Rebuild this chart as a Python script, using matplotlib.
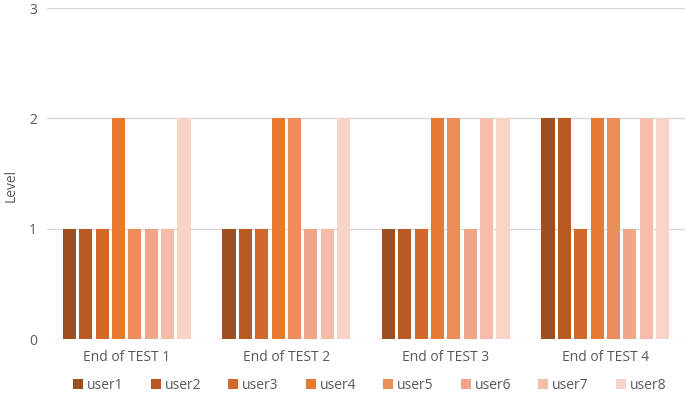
import numpy as np
from matplotlib import pyplot as plt

plt.rcParams['font.family'] = ['Open Sans', 'DejaVu Sans']

categories = ['End of TEST 1', 'End of TEST 2', 'End of TEST 3', 'End of TEST 4']
users = ['user1', 'user2', 'user3', 'user4', 'user5', 'user6', 'user7', 'user8']
levels = [
    [1, 1, 1, 2],  # user1
    [1, 1, 1, 2],  # user2
    [1, 1, 1, 1],  # user3
    [2, 2, 2, 2],  # user4
    [1, 2, 2, 2],  # user5
    [1, 1, 1, 1],  # user6
    [1, 1, 2, 2],  # user7
    [2, 2, 2, 2],  # user8
]
colors = ['#9E4F22', '#B95A24', '#D2692A', '#E67A30',
          '#EC8D5C', '#F0A688', '#F4BCA9', '#F8D3C7']

fig = plt.figure(figsize=(6.85, 4.01), dpi=100)
ax = fig.add_axes([0.0686, 0.1546, 0.9314, 0.8254])

x = np.arange(len(categories))
slot = 0.82 / len(users)
for i, user in enumerate(users):
    offs = (i - (len(users) - 1) / 2) * slot
    ax.bar(x + offs, levels[i], width=slot * 0.8, color=colors[i],
           label=user, zorder=3)

ax.set_xlim(-0.5, len(categories) - 0.5)
ax.set_ylim(0, 3)
ax.set_yticks([0, 1, 2, 3])
ax.set_xticks(x)
ax.set_xticklabels(categories)
ax.grid(axis='y', color='#D9D9D9', linewidth=1, zorder=0)
for s in ['top', 'right', 'left', 'bottom']:
    ax.spines[s].set_visible(False)
ax.tick_params(axis='both', length=0, labelsize=10, colors='#595959', pad=8)
ax.tick_params(axis='y', pad=7)

# y label placed by hand so it sits fully inside the figure
fig.text(11 / 685, 1 - 185 / 401, 'Level', rotation=90, fontsize=10,
         color='#595959', ha='center', va='center')

fig.legend(loc='lower center', bbox_to_anchor=(0.54, -0.01), ncol=8,
           frameon=False, fontsize=10, handlelength=0.7, handleheight=0.7,
           handletextpad=0.3, columnspacing=1.95, labelcolor='#595959')

fig.savefig('out.png', dpi=100)
